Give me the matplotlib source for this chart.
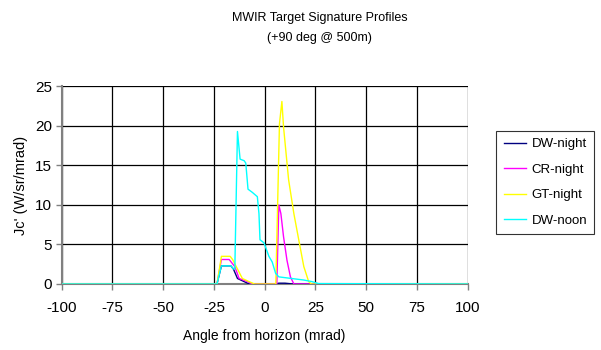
import matplotlib
matplotlib.use("Agg")
import matplotlib.pyplot as plt

plt.rcParams['font.family'] = ['Liberation Sans', 'DejaVu Sans']
plt.rcParams['axes.unicode_minus'] = False

# Profile samples: angle from horizon (mrad) and Jc' (W/sr/mrad)
dw_night_x = [-100, -23.5, -21.3, -16.7, -15.4, -13.4, -10.1, -7.7, 5.5, 7.0, 10.0, 14.0, 100]
dw_night_y = [0, 0, 2.3, 2.3, 1.9, 0.7, 0.3, 0, 0, 0.1, 0.1, 0, 0]

cr_night_x = [-100, -23.5, -21.3, -17.5, -14.7, -12.6, -8.5, -6.0, 6.0, 7.0, 8.0, 9.3, 11.0, 12.7, 14.4, 100]
cr_night_y = [0, 0, 3.1, 3.1, 2.2, 0.7, 0.3, 0, 0, 10.0, 8.9, 6.0, 3.0, 0.9, 0, 0]

gt_night_x = [-100, -23.5, -21.3, -17.0, -15.8, -13.4, -11.0, -7.7, -5.0, 5.5, 7.3, 8.5, 9.3, 11.8, 14.4, 16.8, 19.3, 21.7, 23.0, 100]
gt_night_y = [0, 0, 3.5, 3.5, 3.1, 1.9, 0.7, 0.3, 0, 0, 20.3, 23.1, 19.9, 13.2, 8.9, 5.6, 2.2, 0.3, 0, 0]

dw_noon_x = [-100, -23.5, -21.3, -16.7, -15.4, -14.7, -13.4, -12.1, -10.1, -9.3, -8.2, -6.1, -3.6, -2.8, -2.3, -0.3,
             2.1, 3.7, 5.4, 7.0, 19.3, 23.3, 26.6, 100]
dw_noon_y = [0, 0, 2.3, 2.3, 1.9, 1.9, 19.3, 15.8, 15.6, 15.3, 12.0, 11.6, 11.05, 8.9, 5.6, 5.2,
             3.5, 2.8, 1.35, 0.9, 0.5, 0.3, 0.05, 0]

series_names = ['DW-night', 'CR-night', 'GT-night', 'DW-noon']
series_colors = ['#000080', '#FF00FF', '#FFFF00', '#00FFFF']

x_ticks = [-100, -75, -50, -25, 0, 25, 50, 75, 100]
y_ticks = [0, 5, 10, 15, 20, 25]

fig = plt.figure(figsize=(6.01, 3.5), dpi=100)
ax = fig.add_axes([0.1027, 0.1886, 0.6753, 0.5644])

data = [(dw_night_x, dw_night_y), (cr_night_x, cr_night_y),
        (gt_night_x, gt_night_y), (dw_noon_x, dw_noon_y)]
for (xs, ys), name, col in zip(data, series_names, series_colors):
    ax.plot(xs, ys, color=col, lw=1.0, label=name, zorder=3)

ax.set_xlim(-100, 100)
ax.set_ylim(0, 25)
ax.set_xticks(x_ticks)
ax.set_yticks(y_ticks)
ax.grid(True, color='black', lw=0.9, zorder=0)
ax.set_axisbelow(True)

for side in ['top', 'right']:
    ax.spines[side].set_visible(False)
for side in ['left', 'bottom']:
    ax.spines[side].set_color('#808080')
    ax.spines[side].set_linewidth(1.5)

ax.tick_params(axis='both', direction='out', length=4, width=1, color='#808080',
               labelsize=11, pad=8)
ax.tick_params(axis='y', pad=3)

ax.set_xlabel('Angle from horizon (mrad)', fontsize=10, labelpad=10)
ax.set_ylabel("Jc' (W/sr/mrad)", fontsize=10.5, labelpad=5)

fig.text(0.532, 0.948, 'MWIR Target Signature Profiles', ha='center', va='center', fontsize=9)
fig.text(0.532, 0.891, '(+90 deg @ 500m)', ha='center', va='center', fontsize=9)

leg = fig.legend(loc='upper left', bbox_to_anchor=(0.826, 0.626), frameon=True,
                 fancybox=False, edgecolor='black', fontsize=9.5, handlelength=1.7,
                 handletextpad=0.4, labelspacing=1.0, borderpad=0.55, borderaxespad=0)
leg.get_frame().set_linewidth(0.8)

fig.savefig('out.png', dpi=100)
